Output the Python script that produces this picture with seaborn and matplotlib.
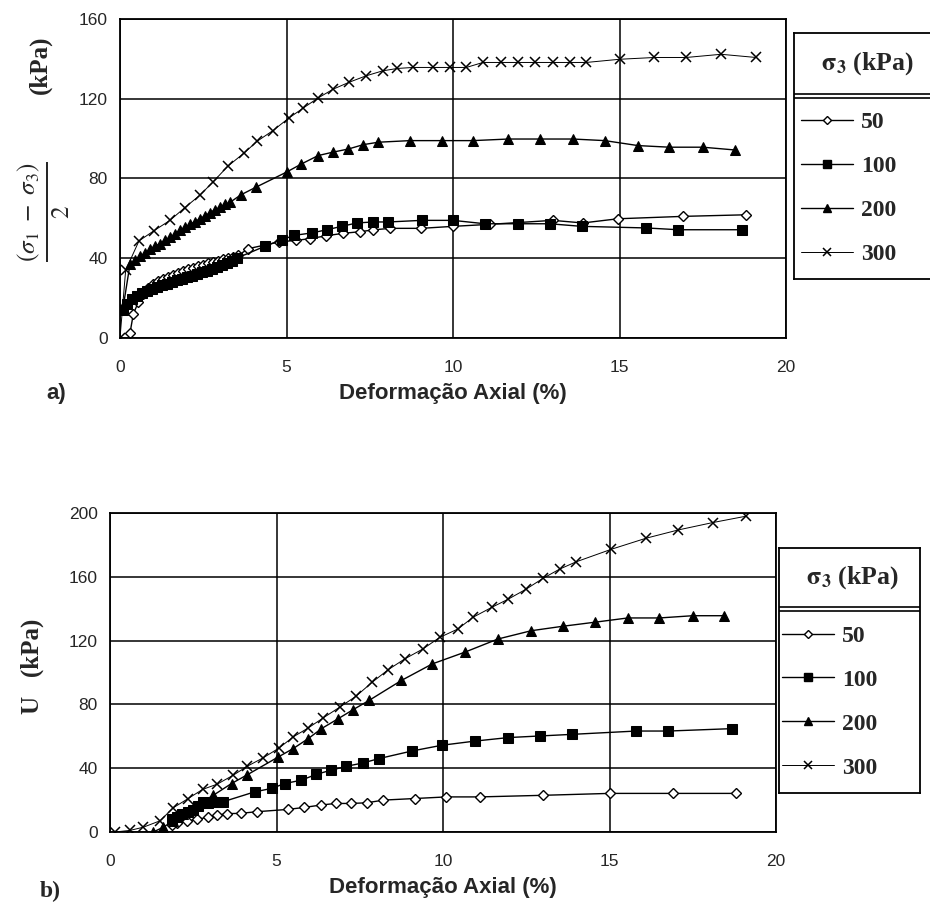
import pandas as pd
import matplotlib
matplotlib.use("Agg")
import matplotlib.pyplot as plt
import seaborn as sns
from matplotlib.lines import Line2D

# ---- data: (a) shear stress (sigma1 - sigma3)/2 vs axial strain ----
A_X_50 = [0.3, 0.4, 0.55, 0.7, 0.85, 1.0, 1.15, 1.3, 1.45, 1.6, 1.75, 1.9, 2.05, 2.2,
          2.35, 2.5, 2.65, 2.8, 2.95, 3.1, 3.25, 3.4, 3.55, 3.85, 4.78, 5.3, 5.7, 6.2,
          6.7, 7.2, 7.6, 8.1, 9.05, 10.0, 11.1, 13.0, 13.9, 14.95, 16.9, 18.8]
A_Y_50 = [2.5, 12, 18, 22, 25, 27, 28.5, 29.5, 30.5, 31.5, 32.5, 33.5, 34.5, 35.2,
          36, 36.7, 37.4, 38, 38.7, 39.4, 40, 40.7, 41.4, 44.8, 48.2, 49, 49.8, 51.3,
          52.5, 53.3, 54.2, 55, 55, 56, 57, 59, 57.7, 59.8, 61, 61.8]

A_X_100 = [0.1, 0.2, 0.35, 0.5, 0.65, 0.8, 0.95, 1.1, 1.25, 1.4, 1.55, 1.7, 1.85, 2.0,
           2.15, 2.3, 2.45, 2.6, 2.75, 2.9, 3.05, 3.2, 3.35, 3.5, 4.35, 4.86, 5.24, 5.76,
           6.21, 6.66, 7.11, 7.6, 8.06, 9.06, 10.0, 10.96, 11.96, 12.9, 13.86, 15.8,
           16.77, 18.67]
A_Y_100 = [14, 17, 19.5, 21, 22.5, 23.5, 24.5, 25.5, 26.5, 27.3, 28, 29, 29.8, 30.5,
           31.3, 32, 33, 33.8, 34.7, 35.5, 36.5, 37.5, 38.5, 40, 46, 49.3, 51.5, 52.7,
           54.3, 56, 57.7, 58.2, 58.2, 59, 59, 57.3, 57.3, 57.3, 56, 55.2, 54.3, 54.3]

A_X_200 = [0.1, 0.3, 0.45, 0.6, 0.75, 0.9, 1.05, 1.2, 1.35, 1.5, 1.65, 1.8, 1.95, 2.1,
           2.25, 2.4, 2.55, 2.7, 2.85, 3.0, 3.15, 3.3, 3.63, 4.09, 5.0, 5.45, 5.95, 6.39,
           6.86, 7.31, 7.76, 8.71, 9.66, 10.6, 11.66, 12.6, 13.6, 14.56, 15.56, 16.5,
           17.5, 18.47]
A_Y_200 = [16, 37, 39, 41, 42.5, 44.5, 46, 47.3, 49, 50.5, 52, 54, 55.5, 57, 58.3, 59.8,
           61.2, 62.8, 64.3, 65.5, 67, 68, 71.8, 75.7, 83.2, 87.3, 91.5, 93.2, 94.8, 97,
           98.2, 99, 99, 99, 99.8, 99.8, 99.8, 99, 96.5, 95.7, 95.7, 94.3]

A_X_300 = [0.0, 0.17, 0.57, 1.01, 1.5, 1.94, 2.39, 2.79, 3.24, 3.72, 4.12, 4.59, 5.07,
           5.49, 5.94, 6.4, 6.87, 7.39, 7.89, 8.33, 8.8, 9.4, 9.9, 10.4, 10.9, 11.45,
           11.95, 12.45, 13.0, 13.5, 14.0, 15.0, 16.05, 17.0, 18.05, 19.1]
A_Y_300 = [0, 34, 48.7, 53.7, 59, 65.3, 71.5, 78.2, 86.2, 92.7, 98.7, 104, 110.3, 115.2,
           120.3, 124.8, 128.2, 131.5, 134, 135.2, 135.7, 135.7, 135.7, 135.7, 138.2,
           138.2, 138.2, 138.2, 138.2, 138.2, 138.2, 139.8, 140.7, 140.7, 142.3, 140.7]

# ---- data: (b) pore pressure U vs axial strain ----
B_X_50 = [1.85, 2.0, 2.3, 2.6, 2.95, 3.2, 3.5, 3.92, 4.4, 5.36, 5.83, 6.33, 6.78, 7.23,
          7.71, 8.21, 9.16, 10.1, 11.1, 13.0, 15.0, 16.9, 18.8]
B_Y_50 = [4.5, 5.4, 6.7, 8, 9.2, 10.4, 11.5, 11.7, 12.7, 14.2, 15.4, 16.9, 17.9, 17.9,
          18.3, 20, 21, 22, 22, 23, 24.2, 24.2, 24.2]

B_X_100 = [1.85, 2.0, 2.15, 2.35, 2.5, 2.65, 2.8, 2.95, 3.1, 3.25, 3.4, 4.35, 4.85, 5.25,
           5.75, 6.2, 6.65, 7.1, 7.6, 8.07, 9.07, 9.97, 10.96, 11.96, 12.9, 13.86, 15.8,
           16.77, 18.67]
B_Y_100 = [8, 9.5, 11, 12.7, 14, 16, 19, 18, 18.5, 19, 19, 25.2, 27.3, 30.4, 32.5, 36.2,
           38.8, 41.2, 43.3, 46, 50.8, 54.4, 57, 59.2, 60.2, 61.2, 63.3, 63.3, 64.8]

B_X_200 = [1.3, 1.6, 1.9, 2.2, 2.5, 2.8, 3.1, 3.65, 4.1, 5.05, 5.5, 5.95, 6.35, 6.85,
           7.3, 7.78, 8.75, 9.68, 10.65, 11.65, 12.65, 13.6, 14.55, 15.55, 16.5, 17.5,
           18.45]
B_Y_200 = [0, 3, 7, 11, 15, 19, 23, 30.4, 35.6, 47, 52.3, 58.5, 64.8, 71, 76.7, 82.5, 95,
           105.4, 112.7, 121, 126.2, 129, 131.5, 134.2, 134.2, 135.6, 135.6]

B_X_300 = [0.15, 0.6, 1.0, 1.5, 1.9, 2.35, 2.78, 3.22, 3.7, 4.12, 4.6, 5.08, 5.5, 5.95,
           6.4, 6.9, 7.38, 7.88, 8.35, 8.85, 9.4, 9.9, 10.45, 10.9, 11.46, 11.96, 12.5,
           13.0, 13.5, 14.0, 15.06, 16.1, 17.07, 18.1, 19.1]
B_Y_300 = [0, 1, 3, 7, 15.2, 21, 26.7, 30, 35.6, 41.2, 46.5, 52.7, 59.6, 65.2, 71.5, 78.3,
           85, 94, 101.7, 108.5, 114.8, 122, 127.3, 134.6, 140.8, 146, 152.3, 159, 164.8,
           169.4, 177.3, 184.2, 189.4, 194, 198]

SIGMA3 = ["50", "100", "200", "300"]
X_TICKS = [0, 5, 10, 15, 20]
A_Y_TICKS = [0, 40, 80, 120, 160]
B_Y_TICKS = [0, 40, 80, 120, 160, 200]
X_LABEL = "Deformação Axial (%)"

STYLES = {
    "50": dict(marker="D", markersize=5.5, markerfacecolor="white",
               markeredgecolor="black", markeredgewidth=1.0, linewidth=1.0),
    "100": dict(marker="s", markersize=6.5, markerfacecolor="black",
                markeredgecolor="black", linewidth=1.0),
    "200": dict(marker="^", markersize=7.5, markerfacecolor="black",
                markeredgecolor="black", linewidth=1.0),
    "300": dict(marker="x", markersize=6.5, markeredgecolor="black",
                markeredgewidth=1.1, linewidth=0.7),
}

SANS = ["Liberation Sans", "DejaVu Sans"]
SERIF = ["Liberation Serif", "DejaVu Serif"]


def draw_panel(fig, rect, series, yticks, ymax):
    ax = fig.add_axes(rect)
    for name, (xs, ys) in zip(SIGMA3, series):
        df = pd.DataFrame({"x": xs, "y": ys})
        sns.lineplot(data=df, x="x", y="y", ax=ax, color="black", estimator=None,
                     sort=False, legend=False, **STYLES[name])
    ax.set_xlim(0, 20)
    ax.set_ylim(0, ymax)
    ax.set_xticks(X_TICKS)
    ax.set_yticks(yticks)
    ax.grid(True, color="black", linewidth=1.1)
    ax.set_axisbelow(True)
    for s in ax.spines.values():
        s.set_color("black")
        s.set_linewidth(1.3)
    ax.set_xlabel("")
    ax.set_ylabel("")
    ax.tick_params(length=0, labelsize=12.5)
    ax.tick_params(axis="x", pad=16)
    ax.tick_params(axis="y", pad=9)
    for lab in ax.get_xticklabels() + ax.get_yticklabels():
        lab.set_family(SANS)
    return ax


def draw_legend(fig, rect, sep_frac, handle_pad):
    lax = fig.add_axes(rect)
    lax.set_xticks([])
    lax.set_yticks([])
    lax.set_xlim(0, 1)
    lax.set_ylim(0, 1)
    for s in lax.spines.values():
        s.set_color("black")
        s.set_linewidth(1.3)
    lax.axhline(sep_frac, color="black", linewidth=1.2)
    lax.axhline(sep_frac - 0.016, color="black", linewidth=1.2)
    lax.text(0.52, (1 + sep_frac) / 2, r"$\mathbf{\sigma_3}$ (kPa)", ha="center",
             va="center", fontsize=18.5, fontweight="bold", family=SERIF)
    handles = [Line2D([], [], color="black", **STYLES[n]) for n in SIGMA3]
    lax.legend(handles, SIGMA3, loc="center left",
               bbox_to_anchor=(handle_pad, (sep_frac - 0.016) / 2),
               frameon=False, handlelength=2.2, handletextpad=0.35,
               labelspacing=0.95, borderpad=0, borderaxespad=0,
               markerscale=0.8,
               prop=dict(family=SERIF, size=17, weight="bold"))
    return lax


def main():
    sns.set_theme(style="white")
    plt.rcParams["font.family"] = SANS
    plt.rcParams["mathtext.fontset"] = "stix"

    fig = plt.figure(figsize=(9.3, 9.05), dpi=100)
    W, H = 930.0, 905.0

    # panel a
    draw_panel(fig, [120 / W, 1 - 338 / H, 666 / W, 319 / H],
               [(A_X_50, A_Y_50), (A_X_100, A_Y_100),
                (A_X_200, A_Y_200), (A_X_300, A_Y_300)],
               A_Y_TICKS, 160)
    # panel b
    draw_panel(fig, [110 / W, 1 - 832 / H, 666 / W, 319 / H],
               [(B_X_50, B_Y_50), (B_X_100, B_Y_100),
                (B_X_200, B_Y_200), (B_X_300, B_Y_300)],
               B_Y_TICKS, 200)

    # axis titles
    fig.text(453 / W, 1 - 394 / H, X_LABEL, ha="center", va="center",
             fontsize=16, fontweight="bold", family=SANS)
    fig.text(443 / W, 1 - 887 / H, X_LABEL, ha="center", va="center",
             fontsize=16, fontweight="bold", family=SANS)
    fig.text(56 / W, 1 - 393 / H, "a)", ha="center", va="center",
             fontsize=16, fontweight="bold", family=SANS)
    fig.text(50 / W, 1 - 891 / H, "b)", ha="center", va="center",
             fontsize=17, fontweight="bold", family=SERIF)

    fig.text(40 / W, 1 - 65 / H, "(kPa)", rotation=90, ha="center", va="center",
             fontsize=18, fontweight="bold", family=SERIF)
    fig.text(44 / W, 1 - 212 / H, r"$\frac{(\sigma_1\ -\ \sigma_3)}{2}$",
             rotation=90, ha="center", va="center", fontsize=26)
    fig.text(32 / W, 1 - 666 / H, "U   (kPa)", rotation=90, ha="center",
             va="center", fontsize=18, fontweight="bold", family=SERIF)

    # legends
    draw_legend(fig, [794 / W, 1 - 279 / H, 140 / W, 246 / H], 1 - 61 / 246, 0.05)
    draw_legend(fig, [779 / W, 1 - 793 / H, 141 / W, 245 / H], 1 - 59 / 245, 0.02)

    fig.savefig("out.png", dpi=100)
    plt.close(fig)


if __name__ == "__main__":
    main()
